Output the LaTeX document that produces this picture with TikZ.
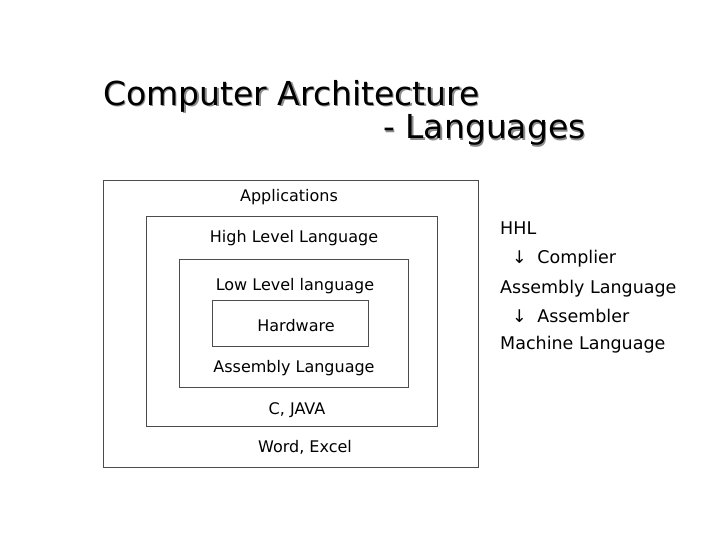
\documentclass[tikz,border=0pt]{standalone}
\usepackage{fontspec}
\setmainfont{DejaVu Sans}
\begin{document}
\begin{tikzpicture}[x=1pt,y=-1pt,
  box/.style={draw=black!70,line width=0.8pt},
  lbl/.style={font=\fontsize{16}{18}\selectfont,inner sep=0pt},
  rt/.style={font=\fontsize{17.5}{20}\selectfont,inner sep=0pt,anchor=west},
  ttl/.style={font=\fontsize{33}{36}\selectfont,inner sep=0pt}]
\useasboundingbox (0,0) rectangle (720,540);
\draw[box] (103,180) rectangle (478,467);
\draw[box] (146,216) rectangle (437,426);
\draw[box] (179,259) rectangle (408,387);
\draw[box] (212,300) rectangle (368,346);
\node[ttl,anchor=west,text=black!45] (t1s) at (104.5,97.5) {Computer Architecture};
\node[ttl,anchor=west] (t1) at (103,96) {Computer Architecture};
\node[ttl,anchor=west,text=black!45] (t2s) at (384.5,131.5) {- Languages};
\node[ttl,anchor=west] (t2) at (383,130) {- Languages};
\node[lbl] (a) at (289,197) {Applications};
\node[lbl] (b) at (294,238) {High Level Language};
\node[lbl] (c) at (295,286) {Low Level language};
\node[lbl] (d) at (296,326) {Hardware};
\node[lbl] (e) at (294,368) {Assembly Language};
\node[lbl] (f) at (297,410) {C, JAVA};
\node[lbl] (g) at (305,447) {Word, Excel};
\node[rt] (r1) at (500,228) {HHL};
\node[rt] (r2) at (512,259) {↓\hspace{0.6em}Complier};
\node[rt] (r3) at (500,289) {Assembly Language};
\node[rt] (r4) at (512,316) {↓\hspace{0.6em}Assembler};
\node[rt] (r5) at (500,345) {Machine Language};
\end{tikzpicture}
\end{document}
